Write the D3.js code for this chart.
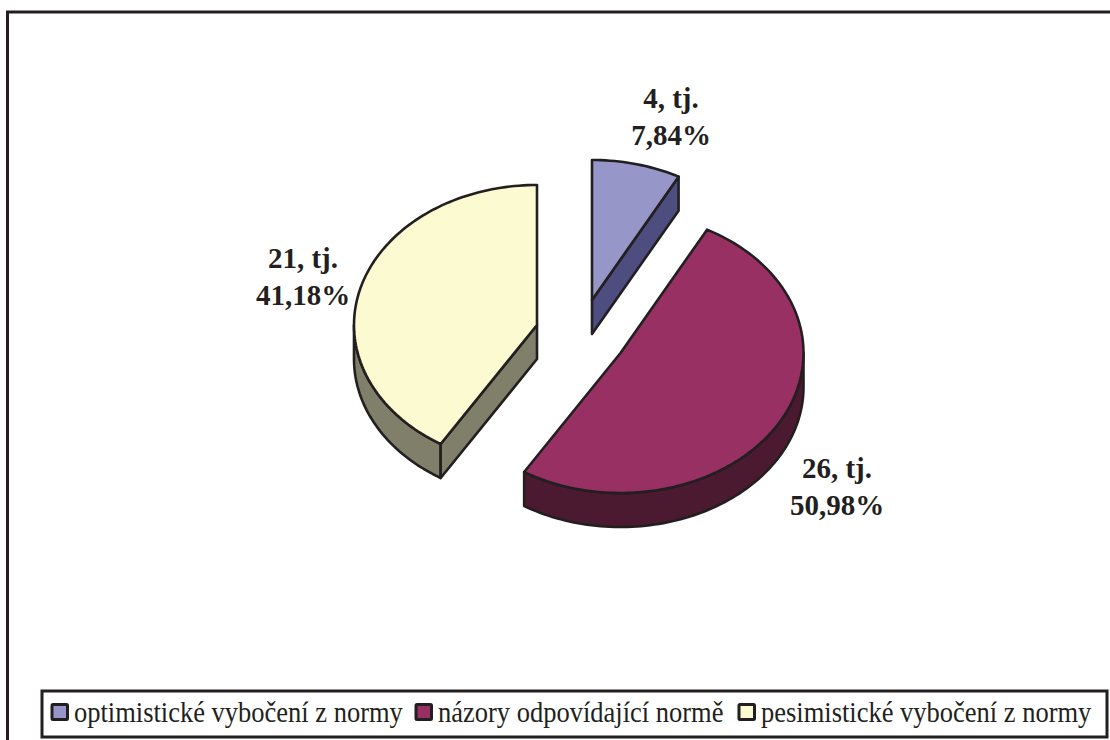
<!DOCTYPE html>
<html>
<head>
<meta charset="utf-8">
<script src="https://cdn.jsdelivr.net/npm/d3@7"></script>
<style>
    html, body { margin: 0; padding: 0; background: #fff; overflow: hidden; }
    svg { display: block; }
    text { font-family: "Liberation Serif", serif; fill: #231f20; }
</style>
</head>
<body>
<svg id="chart" width="1110" height="740"></svg>
<script>
// Données du graphique
const categories = ["optimistické vybočení z normy", "názory odpovídající normě", "pesimistické vybočení z normy"];
const counts = [4, 26, 21];
const percentLabels = ["7,84%", "50,98%", "41,18%"];
const topColors = ["#9696c8", "#983063", "#fcfad0"];
const sideColors = ["#4d4d80", "#4c1a30", "#80806a"];

const ink = "#231f20";
const rx = 183, ry = 140, depth = 34;
// centre de chaque part (parts éclatées)
const centers = [[592, 300], [620.5, 353], [537, 325]];
const labelPos = [[671, 108], [837, 478], [303, 268]];

const svg = d3.select("#chart");

// Cadre extérieur : ouvert à droite et en bas
svg.append("path")
    .attr("d", d3.line()([[7.5, 745], [7.5, 12], [1115, 12]]))
    .attr("fill", "none")
    .attr("stroke", ink)
    .attr("stroke-width", 3);

const pie = d3.pie().sort(null).value(d => d);
const arcs = pie(counts);

// Projection du disque en ellipse (angle 0 = en haut, sens horaire)
function rim(center, angle, dy) {
    return [center[0] + rx * Math.sin(angle), center[1] - ry * Math.cos(angle) + dy];
}

function rimPoints(center, a0, a1, dy) {
    const steps = Math.max(2, Math.ceil(Math.abs(a1 - a0) * 40));
    return d3.range(steps + 1).map(i => rim(center, a0 + (a1 - a0) * i / steps, dy));
}

const line = d3.line();

const slices = svg.append("g")
    .attr("stroke", ink)
    .attr("stroke-width", 2.6)
    .attr("stroke-linejoin", "round");

// Paroi plane le long d'un rayon
function flatWall(c, angle, color) {
    slices.append("path")
        .attr("d", line([c, rim(c, angle, 0), rim(c, angle, depth), [c[0], c[1] + depth]]) + "Z")
        .attr("fill", color);
}

arcs.forEach((d, i) => {
    const c = centers[i];

    // Paroi courbe : seulement la moitié basse du bord est visible
    const a0 = Math.max(d.startAngle, Math.PI / 2);
    const a1 = Math.min(d.endAngle, 3 * Math.PI / 2);
    if (a1 > a0) {
        const top = rimPoints(c, a0, a1, 0);
        const bottom = rimPoints(c, a1, a0, depth);
        slices.append("path")
            .attr("d", line(top.concat(bottom)) + "Z")
            .attr("fill", sideColors[i]);
    }

    // Parois planes : visibles quand elles regardent vers le bas
    if (Math.sin(d.startAngle) < -0.01) flatWall(c, d.startAngle, sideColors[i]);
    if (Math.sin(d.endAngle) > 0.01) flatWall(c, d.endAngle, sideColors[i]);

    // Face supérieure
    slices.append("path")
        .attr("d", line([c].concat(rimPoints(c, d.startAngle, d.endAngle, 0))) + "Z")
        .attr("fill", topColors[i]);
});

// Étiquettes de valeur
const labels = svg.append("g")
    .attr("text-anchor", "middle")
    .attr("font-size", 29)
    .attr("font-weight", "bold");

counts.forEach((v, i) => {
    const t = labels.append("text")
        .attr("x", labelPos[i][0])
        .attr("y", labelPos[i][1]);
    t.append("tspan").attr("x", labelPos[i][0]).text(v + ", tj.");
    t.append("tspan").attr("x", labelPos[i][0]).attr("dy", 37).text(percentLabels[i]);
});

// Légende
const legend = svg.append("g");

legend.append("rect")
    .attr("x", 42).attr("y", 691)
    .attr("width", 1065).attr("height", 46)
    .attr("fill", "#fff")
    .attr("stroke", ink)
    .attr("stroke-width", 3);

const swatchX = [52, 416, 739];
categories.forEach((name, i) => {
    legend.append("rect")
        .attr("x", swatchX[i]).attr("y", 704.5)
        .attr("width", 15.5).attr("height", 15)
        .attr("rx", 1)
        .attr("fill", topColors[i])
        .attr("stroke", ink)
        .attr("stroke-width", 3);
    // texte resserré horizontalement pour tenir dans le cartouche
    legend.append("text")
        .attr("transform", `translate(${swatchX[i] + 22},721.5) scale(0.914,1)`)
        .attr("font-size", 29)
        .text(name);
});
</script>
</body>
</html>
